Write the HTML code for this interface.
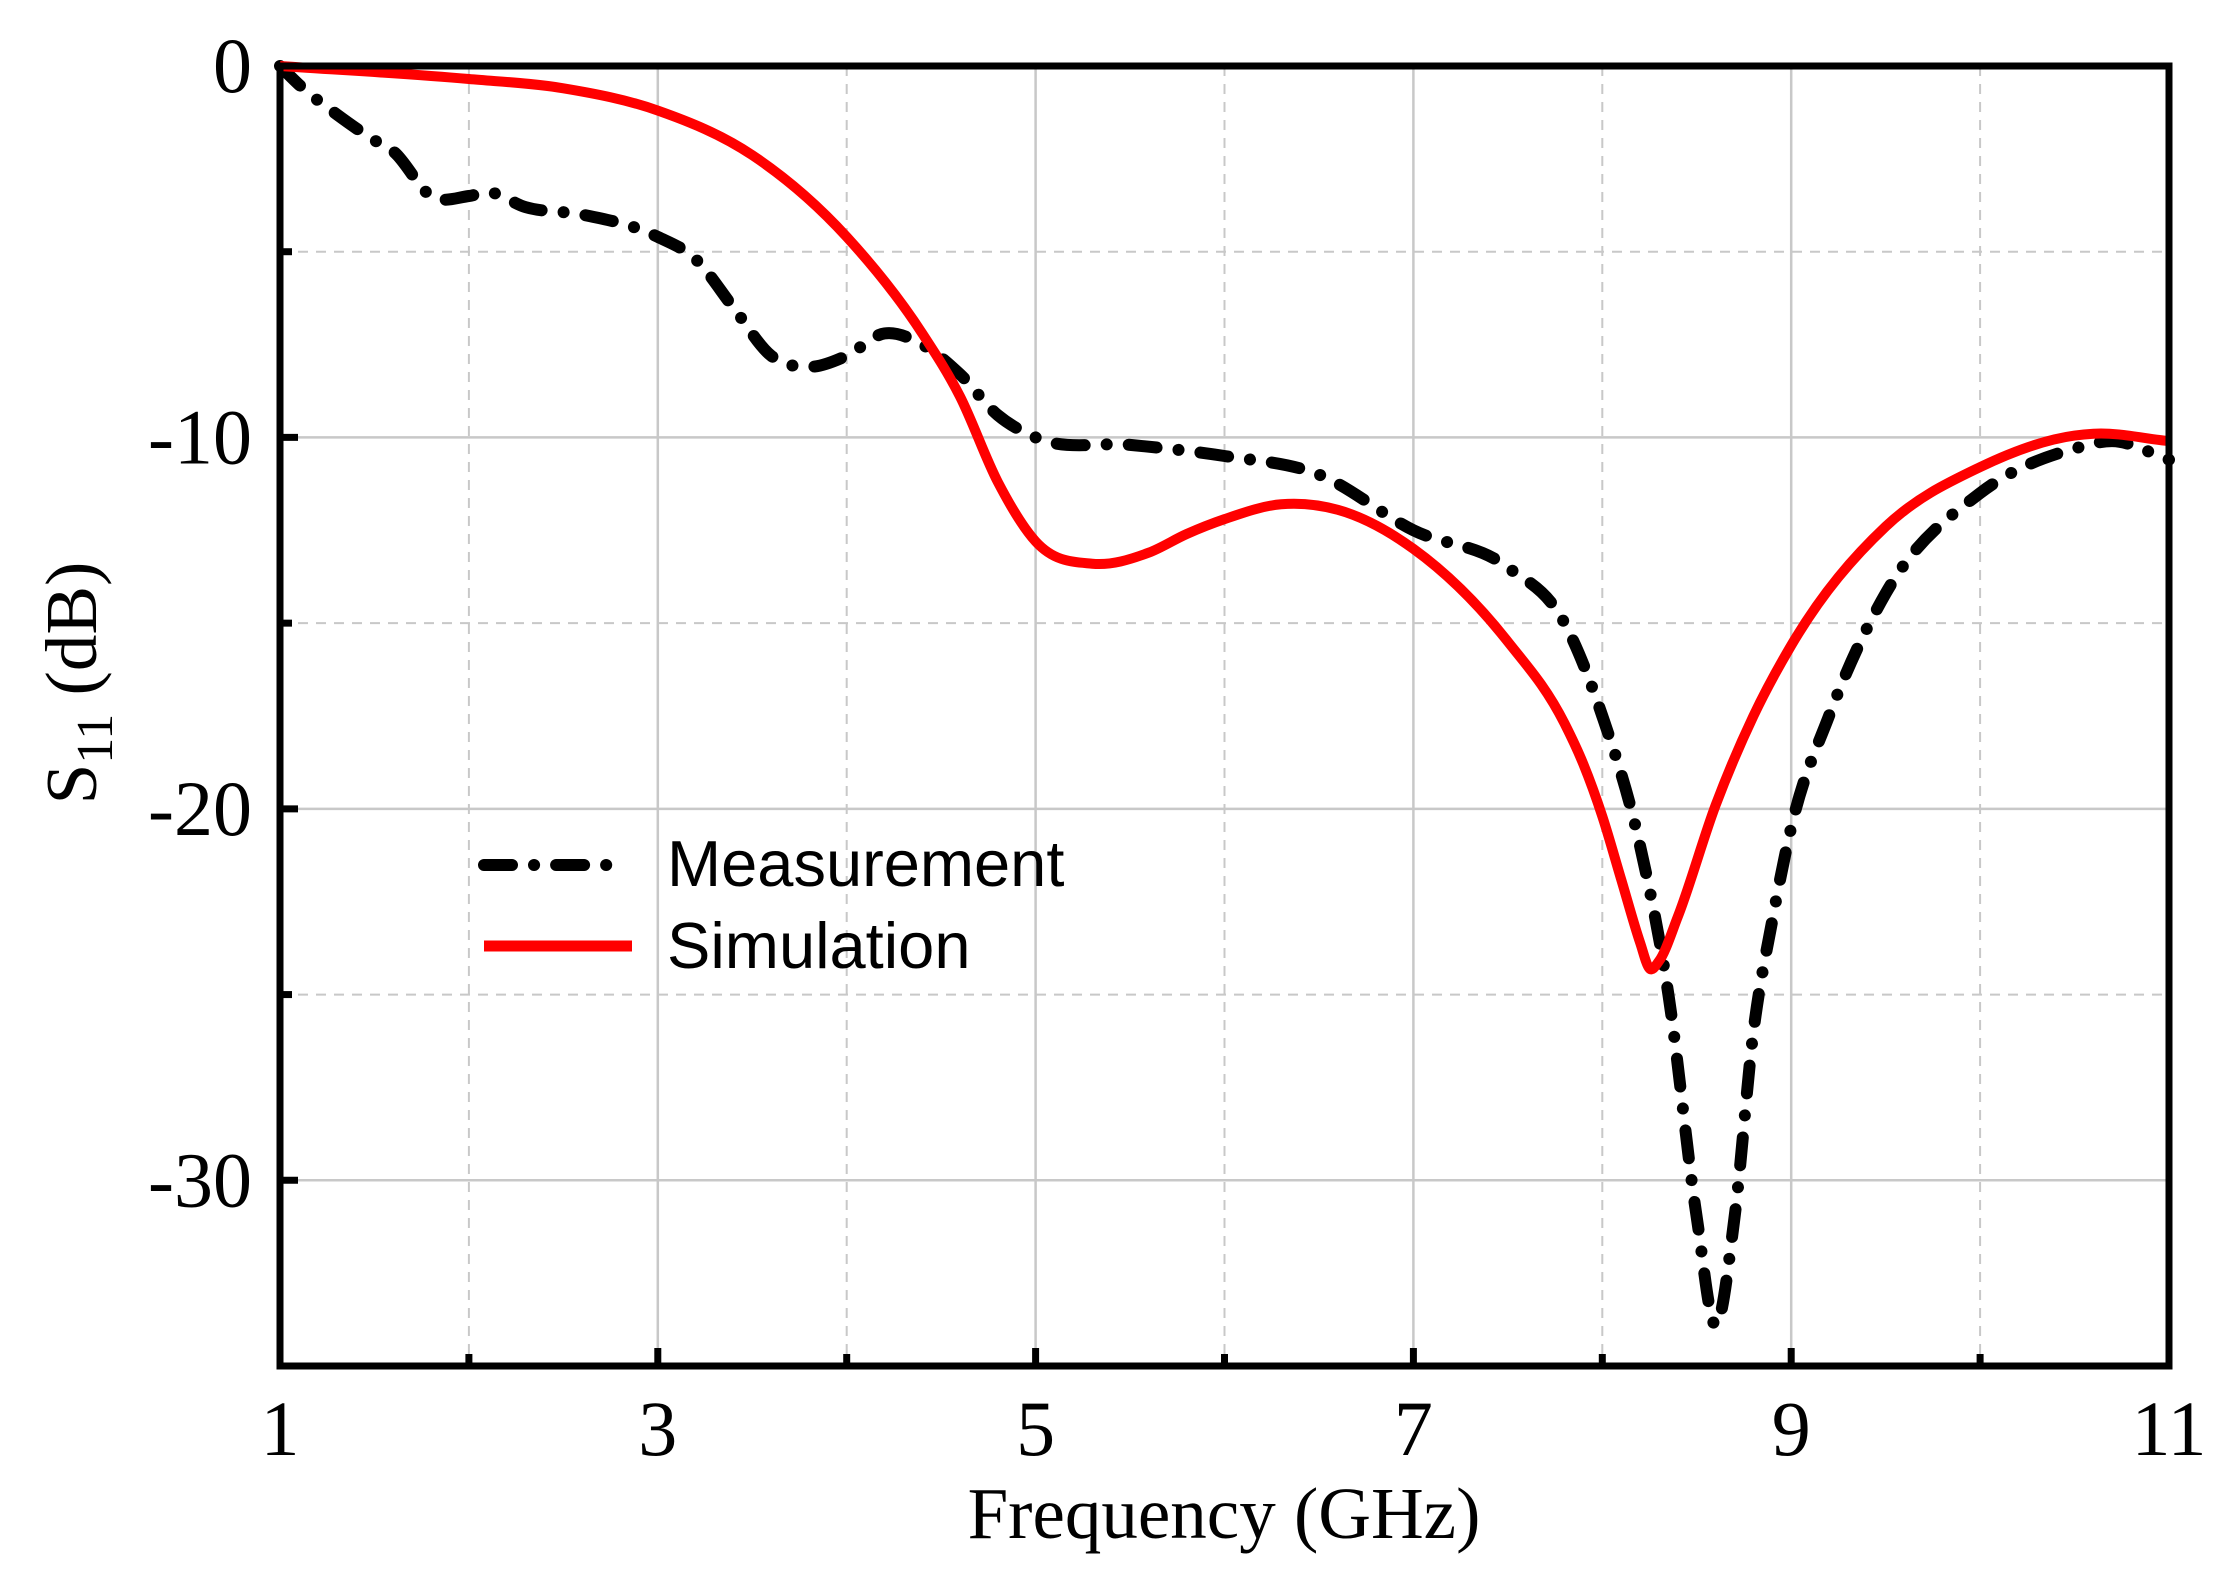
<!DOCTYPE html>
<html><head><meta charset="utf-8"><style>
html,body{margin:0;padding:0;background:#fff;}
svg{display:block;}
</style></head><body>
<svg id="chart" width="2226" height="1575" viewBox="0 0 2226 1575" xmlns="http://www.w3.org/2000/svg">
<g id="grid"></g>
<g id="series"></g>
<rect x="280" y="66" width="1889" height="1300" fill="none" stroke="#000" stroke-width="7"/>
<g id="ticks"></g>
<text x="1224" y="1538" font-family="Liberation Serif, serif" font-size="73" text-anchor="middle">Frequency (GHz)</text>
<text transform="translate(96,683) rotate(-90)" font-family="Liberation Serif, serif" font-size="73" text-anchor="middle">S<tspan font-size="52" dy="16">11</tspan><tspan dy="-16"> (dB)</tspan></text>
<g>
<line x1="484" y1="865" x2="624" y2="865" stroke="#000" stroke-width="12" stroke-linecap="round" stroke-dasharray="28 22 0.1 22"/>
<text x="667" y="886" font-family="Liberation Sans, sans-serif" font-size="65">Measurement</text>
<line x1="484" y1="946" x2="632" y2="946" stroke="#ff0000" stroke-width="11"/>
<text x="667" y="968" font-family="Liberation Sans, sans-serif" font-size="65">Simulation</text>
</g>
</svg>
<script>
const xTicks = [1,3,5,7,9,11];
const xMinor = [2,4,6,8,10];
const yTicks = [0,-10,-20,-30];
const yMinor = [-5,-15,-25];
const simX = [1,2,2.5,3,3.5,4,4.4,4.6,4.8,5,5.3,5.6,5.8,6,6.3,6.6,7,7.5,7.8,7.9,8.0,8.1,8.2,8.25,8.3,8.4,8.6,8.8,9,9.5,10,10.5,10.6,11];
const simY = [0,-0.35,-0.6,-1.2,-2.4,-4.6,-7.2,-8.9,-11.2,-12.8,-13.4,-13.1,-12.6,-12.2,-11.8,-11.95,-13.0,-15.5,-17.7,-18.8,-20.2,-21.9,-23.6,-24.3,-24.1,-22.9,-19.9,-17.5,-15.6,-12.4,-10.8,-9.95,-9.9,-10.1];
const meaX = [1,1.1,1.3,1.5,1.6,1.8,2.0,2.1,2.3,2.6,3.0,3.2,3.4,3.6,3.8,4.0,4.2,4.4,4.6,4.8,5,5.5,6,6.5,7,7.5,7.8,8,8.2,8.35,8.5,8.6,8.7,8.8,8.9,9.0,9.2,9.5,10,10.5,10.7,11];
const meaY = [0,-0.5,-1.3,-2.0,-2.3,-3.5,-3.5,-3.4,-3.8,-4.0,-4.6,-5.2,-6.5,-7.8,-8.1,-7.8,-7.2,-7.5,-8.3,-9.4,-10.0,-10.2,-10.5,-11.0,-12.5,-13.5,-15,-17.5,-21,-25,-31,-33.9,-31,-26,-23,-20.5,-17.5,-14.2,-11.5,-10.3,-10.1,-10.6];

const L=280,R=2169,T=66,B=1366,X0=1,X1=11,Y0=0,Y1=-35;
const sx=v=>L+(v-X0)/(X1-X0)*(R-L);
const sy=v=>T+(v-Y0)/(Y1-Y0)*(B-T);
const NS='http://www.w3.org/2000/svg';
function mk(tag,attrs,parent){const e=document.createElementNS(NS,tag);for(const k in attrs)e.setAttribute(k,attrs[k]);parent.appendChild(e);return e;}
const grid=document.getElementById('grid'),ticks=document.getElementById('ticks'),series=document.getElementById('series');

xTicks.forEach(v=>{
  if(v>X0&&v<X1){const g=mk('line',{x1:sx(v),x2:sx(v),y1:T,y2:B,stroke:'#c8c8c8','stroke-width':2.5},grid);
  
  }
  const t=mk('line',{x1:sx(v),x2:sx(v),y1:B,y2:B-18,stroke:'#000','stroke-width':7},ticks);
  
  
  const l=mk('text',{x:sx(v),y:1455,'font-family':'Liberation Serif, serif','font-size':78,'text-anchor':'middle'},ticks);
  l.textContent=v;
  
  
});
xMinor.forEach(v=>{
  const g=mk('line',{x1:sx(v),x2:sx(v),y1:T,y2:B,stroke:'#c8c8c8','stroke-width':2,'stroke-dasharray':'10 8'},grid);
  
  
  const t=mk('line',{x1:sx(v),x2:sx(v),y1:B,y2:B-12,stroke:'#000','stroke-width':7},ticks);
  
  
});
yTicks.forEach(v=>{
  if(v<Y0){const g=mk('line',{x1:L,x2:R,y1:sy(v),y2:sy(v),stroke:'#c8c8c8','stroke-width':2.5},grid);
  
  }
  const t=mk('line',{x1:L,x2:L+18,y1:sy(v),y2:sy(v),stroke:'#000','stroke-width':7},ticks);
  
  
  const l=mk('text',{x:252,y:sy(v)+26,'font-family':'Liberation Serif, serif','font-size':78,'text-anchor':'end'},ticks);
  l.textContent=v;
  
  
});
yMinor.forEach(v=>{
  const g=mk('line',{x1:L,x2:R,y1:sy(v),y2:sy(v),stroke:'#c8c8c8','stroke-width':2,'stroke-dasharray':'10 8'},grid);
  
  
  const t=mk('line',{x1:L,x2:L+12,y1:sy(v),y2:sy(v),stroke:'#000','stroke-width':7},ticks);
  
  
});
function smooth(xs,ys){
  const px=xs.map(sx), py=ys.map(sy), n=px.length;
  const sec=[];for(let i=0;i<n-1;i++)sec.push((py[i+1]-py[i])/(px[i+1]-px[i]));
  const m=[];
  for(let i=0;i<n;i++){
    if(i===0)m.push(sec[0]);else if(i===n-1)m.push(sec[n-2]);
    else{const h0=px[i]-px[i-1],h1=px[i+1]-px[i];m.push((sec[i-1]*h1+sec[i]*h0)/(h0+h1));}
  }
  let d='M'+px[0]+','+py[0];
  for(let i=0;i<n-1;i++){
    const h=(px[i+1]-px[i])/3;
    d+=' C'+(px[i]+h)+','+(py[i]+m[i]*h)+' '+(px[i+1]-h)+','+(py[i+1]-m[i+1]*h)+' '+px[i+1]+','+py[i+1];
  }
  return d;
}
const m=mk('path',{d:smooth(meaX,meaY),fill:'none',stroke:'#000','stroke-width':12,'stroke-linecap':'round','stroke-linejoin':'round','stroke-dasharray':'28 22 0.1 22'},series);


const s=mk('path',{d:smooth(simX,simY),fill:'none',stroke:'#ff0000','stroke-width':10,'stroke-linejoin':'round'},series);


</script>
</body></html>
